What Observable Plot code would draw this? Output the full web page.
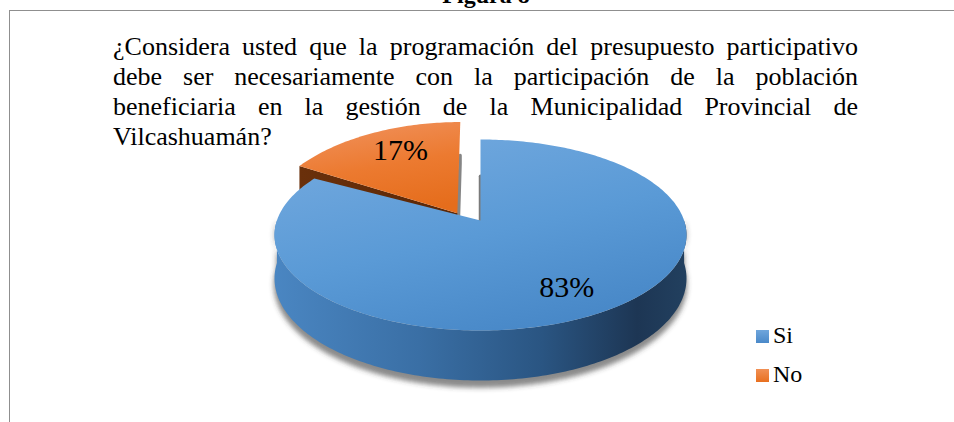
<!DOCTYPE html>
<html><head><meta charset="utf-8">
<script src="https://cdn.jsdelivr.net/npm/d3@7"></script>
<script src="https://cdn.jsdelivr.net/npm/@observablehq/plot@0.6"></script>
<style>
body{margin:0;background:#fff;}
#wrap{position:relative;width:954px;height:422px;overflow:hidden;font-family:'Liberation Serif','Times New Roman',Tinos,'DejaVu Serif',serif;color:#000;}
#frame{position:absolute;left:9px;top:10px;right:-5px;bottom:-5px;border-top:1.6px solid #8f8f8f;border-left:1.6px solid #8f8f8f;}
#fig{position:absolute;left:0;width:972px;text-align:center;top:-17px;font-size:24px;font-weight:bold;line-height:24px;}
#chart{position:absolute;left:0;top:0;}
#q{position:absolute;left:113px;top:32px;width:745px;font-size:26px;line-height:30px;}
#q div{text-align:justify;text-align-last:justify;white-space:nowrap;}
#q div.last{text-align:left;text-align-last:left;}
#legend{position:absolute;left:756px;top:322px;font-size:24px;}
.li{position:relative;height:39px;}
.sw{position:absolute;left:0;top:8px;width:13px;height:13px;}
.lt{position:absolute;left:17px;top:0;line-height:27px;}
svg text{font-family:'Liberation Serif','Times New Roman',Tinos,'DejaVu Serif',serif;}
</style></head><body>
<div id="wrap">
 <div id="frame"></div>
 <div id="fig"></div>
 <div id="chart"></div>
 <div id="q"></div>
 <div id="legend"></div>
</div>
<script>
const titleText = "Figura 8";
const questionLines = [
  "¿Considera usted que la programación del presupuesto participativo",
  "debe ser necesariamente con la participación de la población",
  "beneficiaria en la gestión de la Municipalidad Provincial de",
  "Vilcashuamán?"
];
const categories = ["Si", "No"];
const values = [83, 17];
const labels = ["83%", "17%"];

// presentation
const sliceStyle = {
  Si: {top: "url(#blueTop)", wall: "url(#blueWall)", cut: "#2f5f90", swatch: "linear-gradient(#6fa6dc,#4a89c9)"},
  No: {top: "url(#orangeTop)", wall: "url(#brownWall)", cut: "url(#brownWall)", swatch: "linear-gradient(#f19055,#e8701f)"}
};
const explodeOffset = {Si: [0, 0], No: [-0.115, -0.08]};
const sliceStretch = {Si: [1, 1], No: [0.97, 1.15]};
const labelPlacement = {Si: {turn: 0, r: 0.75}, No: {turn: 4, r: 0.74}};
const P = -0.1518;   // perspective factor
const D = 0.4545;    // pie thickness (in radius units)

// text
document.getElementById("fig").textContent = titleText;
const q = document.getElementById("q");
questionLines.forEach((t, i) => {
  const d = document.createElement("div");
  d.textContent = t;
  if (i === questionLines.length - 1) d.className = "last";
  q.appendChild(d);
});
const lg = document.getElementById("legend");
categories.forEach(c => {
  const row = document.createElement("div"); row.className = "li";
  const sw = document.createElement("div"); sw.className = "sw"; sw.style.background = sliceStyle[c].swatch;
  const tx = document.createElement("div"); tx.className = "lt"; tx.textContent = c;
  row.appendChild(sw); row.appendChild(tx); lg.appendChild(row);
});

// geometry
function proj0(X, Z, drop = 0) { const w = 1 + P * Z; return {x: X / w, y: (Z + drop) / w}; }
function makeProj(off, stretch) {
  const v = proj0(off[0], off[1], 0);
  return (X, Z, drop = 0) => {
    const p = proj0(X, Z, drop);
    return {x: v.x + (p.x - v.x) * stretch[0], y: v.y + (p.y - v.y) * stretch[1]};
  };
}
function disk(theta, r, off) {
  const t = theta * Math.PI / 180;
  return [off[0] + r * Math.sin(t), off[1] - r * Math.cos(t)];
}
function arc(proj, a0, a1, off, drop) {
  const pts = [];
  const n = Math.max(2, Math.ceil(Math.abs(a1 - a0)));
  for (let i = 0; i <= n; i++) {
    const a = a0 + (a1 - a0) * i / n;
    const [X, Z] = disk(a, 1, off);
    pts.push(proj(X, Z, drop));
  }
  return pts;
}
const total = d3.sum(values);
let acc = 0;
const slices = categories.map((c, i) => {
  const a0 = acc / total * 360; acc += values[i]; const a1 = acc / total * 360;
  return {cat: c, value: values[i], label: labels[i], a0, a1, off: explodeOffset[c], proj: makeProj(explodeOffset[c], sliceStretch[c])};
});

const marks = [];
// drop shadow under the front wall
{
  const s = slices.find(d => d.cat === "Si");
  const sh = arc(s.proj, 90, 270, [0, 0.02], D + 0.04).concat(arc(s.proj, 270, 90, [0, 0], 0));
  marks.push(Plot.line(sh, {x: "x", y: "y", fill: "#3a3a3a", stroke: "none", fillOpacity: 0.6}));
}
// back slice (No) first, then front (Si)
const order = [...slices].sort((a, b) => (a.cat === "No" ? -1 : 1));
for (const s of order) {
  const st = sliceStyle[s.cat];
  const pr = s.proj;
  const [vx, vz] = s.off;
  // outer wall (visible front part)
  const w0 = Math.max(s.a0, 90), w1 = Math.min(s.a1, 270);
  if (w1 > w0) {
    const wall = arc(pr, w0, w1, s.off, 0).concat(arc(pr, w1, w0, s.off, D));
    marks.push(Plot.line(wall, {x: "x", y: "y", fill: st.wall, stroke: "none"}));
  }
  if (s.cat === "No") {
    // thin radial wall at end angle (seen edge-on)
    const [ex, ez] = disk(s.a1, 1, s.off);
    const cut2 = [pr(vx, vz, 0), pr(ex, ez, 0.36), pr(ex, ez, D), pr(vx, vz, D)];
    marks.push(Plot.line(cut2, {x: "x", y: "y", fill: "#8a8a8a", stroke: "#858585", strokeWidth: 3}));
    // radial wall facing viewer at start angle
    const [rx, rz] = disk(s.a0, 1, s.off);
    const cut = [pr(vx, vz, 0), pr(rx, rz, 0), pr(rx, rz, D), pr(vx, vz, D)];
    marks.push(Plot.line(cut, {x: "x", y: "y", fill: st.cut, stroke: "none"}));
  } else {
    // edge of the cut at angle 0 (seen edge-on)
    const [rx, rz] = disk(s.a0, 1, s.off);
    const edge = [pr(rx, rz, D), pr(vx, vz, 0)];
    marks.push(Plot.line(edge, {x: "x", y: "y", stroke: "#7a7a7a", strokeWidth: 3.5}));
  }
  // top face
  const top = [pr(vx, vz, 0)].concat(arc(pr, s.a0, s.a1, s.off, 0));
  marks.push(Plot.line(top, {x: "x", y: "y", fill: st.top, stroke: "none"}));
}
// labels
const labelPts = slices.map(s => {
  const lp = labelPlacement[s.cat];
  const mid = (s.a0 + s.a1) / 2 + lp.turn;
  const [X, Z] = disk(mid, lp.r, s.off);
  const p = s.proj(X, Z, 0);
  return {x: p.x, y: p.y, label: s.label};
});
marks.push(Plot.text(labelPts, {x: "x", y: "y", text: "label", fontSize: 30, fill: "#000", lineAnchor: "middle"}));

const svg = Plot.plot({
  width: 954, height: 422, margin: 0,
  x: {domain: [-1, 1], range: [276.4, 683.6], axis: null},
  y: {domain: [-1, 1], range: [126.7, 313.3], axis: null},
  style: {background: "transparent", overflow: "visible"},
  marks
});
const ns = "http://www.w3.org/2000/svg";
const defs = document.createElementNS(ns, "defs");
defs.innerHTML = `
<linearGradient id="blueTop" x1="0.25" y1="0" x2="0.75" y2="1">
  <stop offset="0" stop-color="#71a8de"/><stop offset="0.5" stop-color="#5a9ad6"/><stop offset="1" stop-color="#4686c6"/>
</linearGradient>
<linearGradient id="blueWall" x1="0" y1="0" x2="1" y2="0">
  <stop offset="0" stop-color="#4a86c2"/><stop offset="0.35" stop-color="#3a6fa5"/><stop offset="0.65" stop-color="#2a5582"/><stop offset="0.88" stop-color="#1d3654"/><stop offset="1" stop-color="#22405f"/>
</linearGradient>
<linearGradient id="orangeTop" x1="0.3" y1="0" x2="0.6" y2="1">
  <stop offset="0" stop-color="#f0905a"/><stop offset="0.5" stop-color="#ec7a30"/><stop offset="1" stop-color="#e56d1c"/>
</linearGradient>
<linearGradient id="brownWall" x1="0" y1="0" x2="1" y2="0">
  <stop offset="0" stop-color="#6a300b"/><stop offset="1" stop-color="#5a2707"/>
</linearGradient>
<filter id="blur" x="-10%" y="-20%" width="120%" height="140%"><feGaussianBlur stdDeviation="2.5"/></filter>`;
svg.insertBefore(defs, svg.firstChild);
const shadowG = svg.querySelector('g[fill="#3a3a3a"]');
if (shadowG) shadowG.setAttribute("filter", "url(#blur)");
document.getElementById("chart").appendChild(svg);
</script>
</body></html>
